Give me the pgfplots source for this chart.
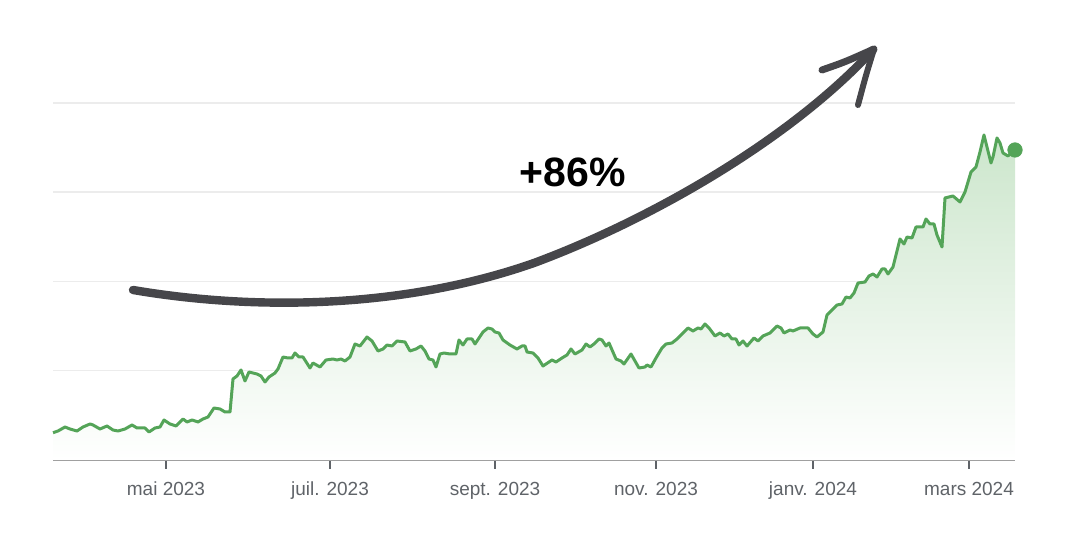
\documentclass[border=0pt]{standalone}
\usepackage{pgfplots}
\pgfplotsset{compat=1.18}
\usepackage{pgfplotstable}
\usepackage{fontspec}
\setmainfont{Liberation Sans}
\definecolor{linegreen}{RGB}{84,164,88}
\definecolor{fillgreen}{RGB}{204,230,204}
\definecolor{arrowgray}{RGB}{70,70,74}
\definecolor{tickgray}{RGB}{95,99,104}
\definecolor{gridgray}{RGB}{236,236,236}
\definecolor{axisgray}{RGB}{160,160,160}

\pgfplotstableread{
x y
53 27.3
58 29
65 33
70 31
77 29
83 33
90 36
93 35
100 31
107 34
113 30
118 29
125 31
132 35
137 32
145 32
149 28
155 32
160 33
164 40
170 36
176 34
183 41
187 38
192 40
198 38
203 41
208 43
214 52
220 51
225 48
230 48
233 81
237 84
241 90
245 79
249 88
257 86
261 84
265 78
269 83
275 87
278 91
283 103
288 102
292 102
295 107
299 103
303 103
310 92
313 97
320 93
326 100
333 101
337 100
341 101
345 99
350 103
355 116
360 114
367 123
372 119
378 109
383 111
387 115
392 114
397 119
405 118
410 109
416 111
421 114
425 109
429 101
433 100
436 93
440 106
444 107
450 106
456 106
459 120
463 115
467 121
472 121
475 116
479 122
483 128
488 132
492 131
495 128
499 127
503 120
510 115
517 111
522 114
525 114
527 108
533 107
538 102
543 94
552 100
556 98
562 102
567 105
571 111
575 106
582 110
586 116
590 113
594 116
599 121
602 120
606 114
609 117
616 101
621 99
624 96
631 106
635 99
639 92
645 93
647 95
651 93
656 102
662 112
666 116
672 117
677 121
683 127
688 132
693 129
698 132
701 131
705 136
709 132
715 124
720 127
724 124
728 126
732 121
736 121
739 115
743 119
747 114
754 122
758 119
763 124
770 127
773 130
777 134
781 132
784 127
790 130
793 129
800 132
808 132
813 126
817 123
823 128
827 145
832 150
837 155
842 156
846 163
850 162
854 167
858 177
865 178
869 184
873 186
877 183
882 191
885 191
888 186
893 193
896 205
900 221
904 216
907 223
912 222
916 233
923 233
926 241
930 236
934 236
937 225
942 213
945 262
953 264
960 258
965 268
971 288
976 293
980 308
984 325
987 313
991 297
993 303
997 322
1000 317
1003 307
1008 304
1015 310
}\pricedata

\begin{document}
\begin{tikzpicture}
\useasboundingbox (-26.5pt,-37pt) rectangle (515.5pt,230pt);
\begin{axis}[
  at={(0,0)}, anchor=south west,
  scale only axis, width=481pt, height=178.5pt,
  xmin=53, xmax=1015, ymin=0, ymax=357,
  axis x line*=bottom, axis y line*=left,
  y axis line style={draw=none},
  x axis line style={axisgray, line width=0.9pt},
  ytick={89.25,178.5,267.75,357}, yticklabels={},
  ytick style={draw=none},
  ymajorgrids, major grid style={gridgray, line width=0.75pt},
  xtick={166,330,495,656,813,969},
  xticklabels={mai 2023, juil. 2023, sept. 2023, nov. 2023, janv. 2024, mars 2024},
  tick align=outside, major tick length=4.5pt,
  xtick style={tickgray, line width=1pt},
  ticklabel style={font=\fontsize{9.5}{11}\selectfont, text=tickgray},
  xticklabel style={yshift=-3pt},
  clip=false,
]
\addplot[draw=none, top color=fillgreen, bottom color=white, forget plot] table[x=x,y=y]{\pricedata} \closedcycle;
\addplot[linegreen, line width=1.5pt, line join=round] table[x=x,y=y]{\pricedata};
\addplot[only marks, mark=*, mark size=3.6pt, linegreen] coordinates {(1015,310)};
\draw[arrowgray, line width=4.2pt, line cap=round] (133,170) .. controls (250,150) and (400,150) .. (534,197) .. controls (650,240) and (790,320) .. (873,410);
\draw[arrowgray, line width=3.5pt, line cap=round] (822,390) .. controls (845,398) .. (874,411);
\draw[arrowgray, line width=3pt, line cap=round] (874,411) .. controls (866,385) .. (858,355);
\node[font=\fontsize{20.5}{24}\selectfont\bfseries, text=black] at (573,288) {+86\%};
\end{axis}
\end{tikzpicture}
\end{document}
